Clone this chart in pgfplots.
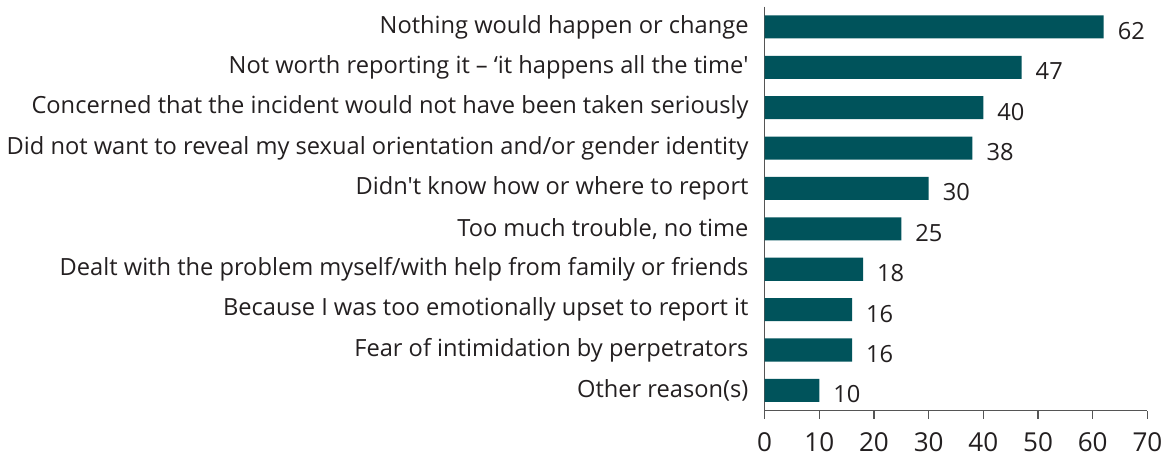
\documentclass[border=0pt]{standalone}
\usepackage{pgfplots}
\pgfplotsset{compat=1.18}
\usepackage{fontspec}
\setmainfont{Open Sans}[Ligatures=TeXOff]
\definecolor{barc}{HTML}{00535B}
\definecolor{txt}{HTML}{231F20}
\definecolor{axc}{HTML}{555555}
\begin{document}
\begin{tikzpicture}
\begin{axis}[
  scale only axis,
  width=191pt, height=201.5pt,
  xbar, bar width=11.5pt,
  xmin=0, xmax=70,
  ymin=-0.5, ymax=9.5,
  y dir=reverse,
  axis x line*=bottom,
  axis y line*=left,
  axis line style={axc, line width=0.6pt},
  xtick={0,10,...,70},
  ytick={0,...,9},
  yticklabels={
    Nothing would happen or change,
    Not worth reporting it – ‘it happens all the time',
    Concerned that the incident would not have been taken seriously,
    Did not want to reveal my sexual orientation and/or gender identity,
    Didn't know how or where to report,
    {Too much trouble, no time},
    Dealt with the problem myself/with help from family or friends,
    Because I was too emotionally upset to report it,
    Fear of intimidation by perpetrators,
    Other reason(s)},
  y tick style={draw=none},
  extra y ticks={-0.5,0.5,...,9.5},
  extra y tick labels={},
  extra y tick style={major tick length=4pt, tick style={axc, line width=0.6pt}, tick align=outside},
  x tick style={axc, line width=0.6pt},
  tick align=outside,
  major tick length=4pt,
  yticklabel style={font=\fontsize{11.8}{14}\selectfont, text=txt, xshift=-0.5pt},
  xticklabel style={font=\fontsize{13}{15}\selectfont, text=txt, yshift=-3.5pt},
  /pgf/number format/assume math mode=true,
  nodes near coords,
  point meta=x,
  nodes near coords style={font=\fontsize{11.8}{14}\selectfont, text=txt, anchor=west, xshift=3.5pt, yshift=-2pt},
  clip=false,
]
\addplot[fill=barc, draw=none] coordinates {
(62,0) (47,1) (40,2) (38,3) (30,4) (25,5) (18,6) (16,7) (16,8) (10,9)
};
\end{axis}
\end{tikzpicture}
\end{document}
